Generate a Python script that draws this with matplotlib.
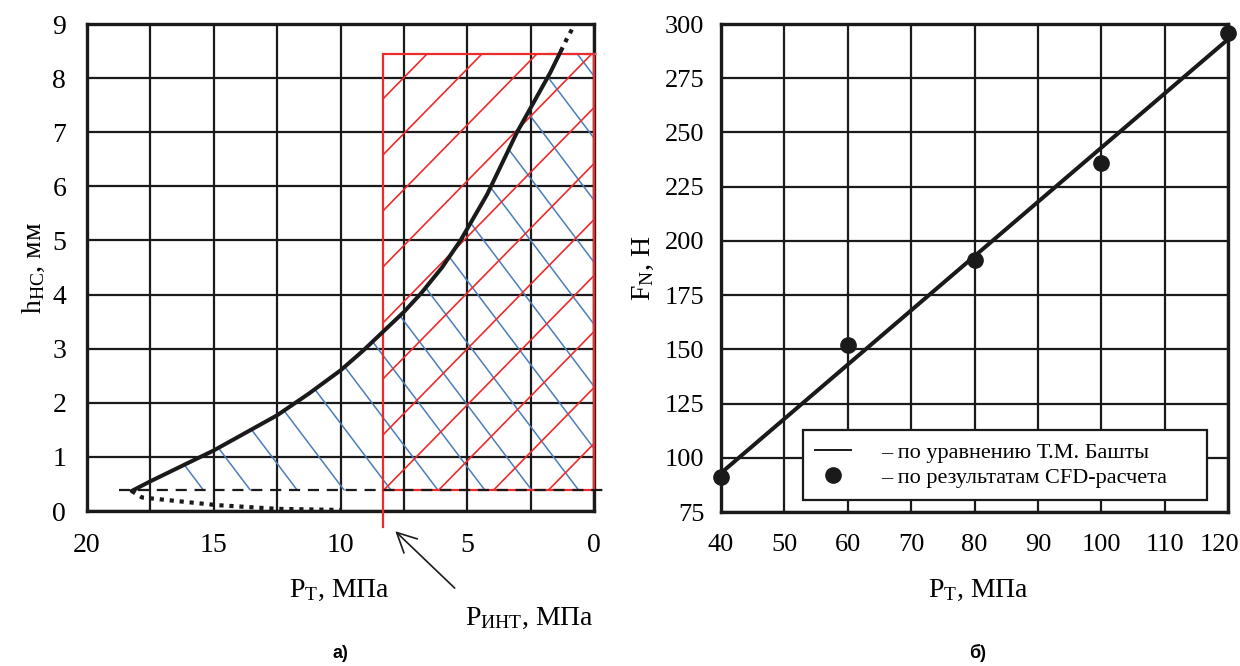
import numpy as np
import matplotlib
matplotlib.use('Agg')
import matplotlib.pyplot as plt
from matplotlib.patches import Polygon, Rectangle, FancyArrowPatch
from matplotlib.lines import Line2D
from matplotlib.transforms import ScaledTranslation

plt.rcParams['font.family'] = ['Liberation Serif', 'DejaVu Serif']
plt.rcParams['mathtext.fontset'] = 'custom'
plt.rcParams['mathtext.rm'] = 'Liberation Serif'
plt.rcParams['mathtext.it'] = 'Liberation Serif:italic'
plt.rcParams['mathtext.bf'] = 'Liberation Serif:bold'

# --- panel a) : h_HC vs P_T
curve_p = [18.24, 17.5, 15.0, 12.5, 11.25, 10.0, 9.12, 7.5, 6.83, 6.0, 5.27,
           4.22, 3.04, 1.73, 1.31]
curve_h = [0.37, 0.55, 1.12, 1.77, 2.17, 2.6, 2.96, 3.68, 4.02, 4.5, 5.0,
           5.85, 7.0, 8.1, 8.5]
ext_p = [1.31, 1.05, 0.84]
ext_h = [8.5, 8.75, 8.93]
low_p = [18.24, 17.83, 14.9, 12.5, 10.0]
low_h = [0.37, 0.25, 0.11, 0.04, 0.02]
h_min = 0.38
h_max = 8.45
p_int = 8.31

# --- panel б) : F_N vs P_T
p_t = [40, 60, 80, 100, 120]
f_cfd = [91, 152, 191, 236, 296]
line_p = [40, 120]
line_f = [93, 293]
legend_labels = ['– по уравнению Т.М. Башты', '– по результатам CFD-расчета']

dark = '#1a1a1a'
red = '#ee2b2b'
blue = '#4a7ebb'

fig = plt.figure(figsize=(12.4, 6.66), dpi=100)
ax1 = fig.add_axes([0.0702, 0.2327, 0.4089, 0.7312])
ax2 = fig.add_axes([0.5815, 0.2312, 0.4089, 0.7327])

# ---------- left
ax1.set_xlim(20, 0)
ax1.set_ylim(0, 9)
ax1.set_xticks([20, 15, 10, 5, 0])
ax1.set_xticks(np.arange(0, 20.1, 2.5), minor=True)
ax1.set_yticks(range(0, 10))
ax1.grid(True, which='both', color=dark, lw=1.6)
ax1.set_axisbelow(True)
ax1.tick_params(which='both', length=0, labelsize=20)
ax1.tick_params(axis='x', pad=16)
ax1.tick_params(axis='y', pad=15)
for s in ax1.spines.values():
    s.set_linewidth(2.4)
    s.set_color(dark)

xs = np.array([-1.0, 21.0])

# blue hatch under the curve
x_top = np.interp(h_max, curve_h, curve_p)
verts = [(curve_p[0], h_min)]
verts += [(p, h) for p, h in zip(curve_p, curve_h) if h < h_max]
verts += [(x_top, h_max), (0, h_max), (0, h_min)]
blue_clip = Polygon(verts, closed=True, transform=ax1.transData)
for x0 in np.arange(15.4, -15, -1.85):
    ln, = ax1.plot(xs, h_min + 0.62 * (xs - x0), color=blue, lw=1.1, zorder=3)
    ln.set_clip_path(blue_clip)

# red hatch in the rectangle
red_clip = Rectangle((0, h_min), p_int, h_max - h_min, transform=ax1.transData)
for k in range(-12, 12):
    ln, = ax1.plot(xs, h_min + 0.478 * (p_int - xs) + k * 1.035, color=red,
                   lw=1.2, zorder=3)
    ln.set_clip_path(red_clip)

ax1.add_patch(Rectangle((0, h_min), p_int, h_max - h_min, fill=False,
                        edgecolor=red, lw=1.6, zorder=4, clip_on=False))
ax1.plot([p_int, p_int], [-0.3, h_min], color=red, lw=1.6, clip_on=False, zorder=4)

ax1.plot([18.73, -0.45], [h_min, h_min], color=dark, lw=1.6, dashes=(5, 3.5),
         clip_on=False, zorder=4)
ax1.plot([1.8, -0.45], [h_max, h_max], color='#999999', lw=1.6, dashes=(5, 3.5),
         clip_on=False, zorder=3)

ax1.plot(curve_p, curve_h, color=dark, lw=2.9, zorder=5, solid_capstyle='round',
         solid_joinstyle='round')
ax1.plot(ext_p, ext_h, color=dark, lw=3, ls=(0, (1, 1.4)), zorder=5)
ax1.plot(low_p, low_h, color=dark, lw=3, ls=(0, (1, 1.4)), zorder=5)

ax1.set_ylabel(r'h$_{\mathrm{НС}}$, мм', fontsize=20, labelpad=4)
fig.text(339 / 1240, 1 - 590 / 666, r'P$_{\mathrm{Т}}$, МПа', fontsize=20,
         ha='center', va='center')
fig.text(529 / 1240, 1 - 618 / 666, r'P$_{\mathrm{ИНТ}}$, МПа', fontsize=20,
         ha='center', va='center')
fig.add_artist(FancyArrowPatch(
    (456.7 / 1240, 1 - 590 / 666), (393.3 / 1240, 1 - 529.3 / 666),
    transform=fig.transFigure, arrowstyle='->,head_length=0.7,head_width=0.35',
    color=dark, lw=1.2, mutation_scale=20))

# ---------- right
ax2.set_xlim(40, 120)
ax2.set_ylim(75, 300)
ax2.set_xticks(range(40, 121, 10))
ax2.set_yticks(range(75, 301, 25))
ax2.grid(True, color=dark, lw=1.6)
ax2.set_axisbelow(True)
ax2.tick_params(length=0, labelsize=19)
ax2.tick_params(axis='x', pad=16)
ax2.tick_params(axis='y', pad=12)
for s in ax2.spines.values():
    s.set_linewidth(2.4)
    s.set_color(dark)
last = ax2.get_xticklabels()[-1]
last.set_transform(last.get_transform() + ScaledTranslation(-9 / 100, 0, fig.dpi_scale_trans))

ax2.plot(line_p, line_f, color=dark, lw=2.9, zorder=4)
ax2.plot(p_t, f_cfd, 'o', color=dark, ms=11, clip_on=False, zorder=5)

ax2.set_ylabel(r'F$_{\mathrm{N}}$, Н', fontsize=20, labelpad=6)
fig.text(978 / 1240, 1 - 590 / 666, r'P$_{\mathrm{Т}}$, МПа', fontsize=20,
         ha='center', va='center')

handles = [Line2D([], [], color=dark, lw=1.4),
           Line2D([], [], color=dark, marker='o', ls='none', ms=11)]
# trailing spaces give the wider right margin of the original box
labels = [legend_labels[0], legend_labels[1] + '     ']
leg = ax2.legend(handles, labels, loc='lower right',
                 bbox_to_anchor=(0.9586, 0.0246), borderaxespad=0,
                 fontsize=16, fancybox=False, framealpha=1, edgecolor=dark,
                 handlelength=1.6, handletextpad=1.35, labelspacing=0.2,
                 borderpad=0.55)
leg.get_frame().set_linewidth(1.6)

fig.text(340 / 1240, 1 - 653 / 666, 'а)', fontsize=13, fontweight='bold',
         family='Liberation Sans', ha='center', va='center')
fig.text(978 / 1240, 1 - 653 / 666, 'б)', fontsize=13, fontweight='bold',
         family='Liberation Sans', ha='center', va='center')

fig.savefig('out.png', dpi=100)
